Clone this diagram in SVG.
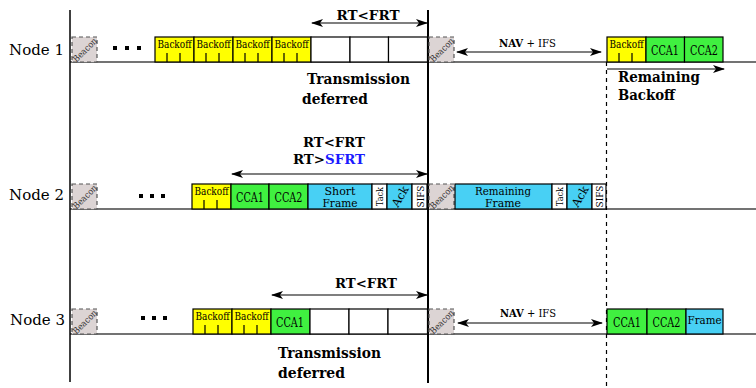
<svg xmlns="http://www.w3.org/2000/svg" width="756" height="388" viewBox="0 0 756 388">
<defs>
<style>
.bk{fill:#ffff00;stroke:#000;stroke-width:1.2}
.cc{fill:#40f040;stroke:#000;stroke-width:1.2}
.fr{fill:#48d0f4;stroke:#000;stroke-width:1.2}
.wh{fill:#fff;stroke:#000;stroke-width:1.2}
.bc{fill:#dcd4d4;stroke:#555;stroke-width:1.2;stroke-dasharray:4 3}
.tk{stroke:#000;stroke-width:1.2}
.tl{stroke:#444;stroke-width:1.5}
.ar{stroke:#000;stroke-width:1.2;fill:none;marker-start:url(#ah);marker-end:url(#ah)}
text{font-family:"DejaVu Serif","Liberation Serif",serif;fill:#000}
.bt{font-size:10.5px}
.ct{font-size:12.5px}
.bn{font-size:9px;fill:#333}
.lb{font-size:15px}
.b{font-weight:bold}
</style>
<marker id="ah" viewBox="0 0 12 8" refX="11" refY="4" markerWidth="12" markerHeight="8" markerUnits="userSpaceOnUse" orient="auto-start-reverse">
<path d="M0,0 L12,4 L0,8 L3,4 z" fill="#000"/>
</marker>
<g id="bo"><rect class="bk" x="0" y="0" width="39" height="25"/><line class="tk" x1="12" y1="16" x2="12" y2="25"/><line class="tk" x1="25" y1="16" x2="25" y2="25"/><text class="bt" x="19.5" y="11" text-anchor="middle" textLength="34" lengthAdjust="spacingAndGlyphs">Backoff</text></g>
<g id="bcn"><rect class="bc" x="0" y="0" width="25" height="25"/><text class="bn" transform="translate(13,13) rotate(-45)" x="0" y="3" text-anchor="middle" textLength="30" lengthAdjust="spacingAndGlyphs">Beacon</text></g>
</defs>
<rect width="756" height="388" fill="#fff"/>

<g id="axes">
<line class="tl" x1="70" y1="62" x2="756" y2="62"/>
<line class="tl" x1="70" y1="209" x2="756" y2="209"/>
<line class="tl" x1="70" y1="334" x2="756" y2="334"/>
<line x1="70" y1="10" x2="70" y2="382" stroke="#000" stroke-width="1.5"/>
<line x1="428" y1="10" x2="428" y2="383" stroke="#000" stroke-width="2"/>
<line x1="606.5" y1="62" x2="606.5" y2="386" stroke="#000" stroke-width="1.2" stroke-dasharray="4 4"/>
</g>

<g id="node1">
<text class="lb" x="9" y="55">Node 1</text>
<use href="#bcn" x="72" y="37"/>
<rect x="113" y="46" width="4" height="4"/><rect x="125" y="46" width="4" height="4"/><rect x="137" y="46" width="4" height="4"/>
<use href="#bo" x="155" y="37"/>
<use href="#bo" x="194" y="37"/>
<use href="#bo" x="233" y="37"/>
<use href="#bo" x="272" y="37"/>
<rect class="wh" x="311" y="37" width="39" height="25"/>
<rect class="wh" x="350" y="37" width="38.5" height="25"/>
<rect class="wh" x="388.5" y="37" width="39" height="25"/>
<use href="#bcn" x="429" y="37"/>
<text class="b" x="368" y="20" font-size="13" text-anchor="middle" textLength="63" lengthAdjust="spacingAndGlyphs">RT&lt;FRT</text>
<text class="b" x="307" y="84" font-size="15" textLength="103" lengthAdjust="spacingAndGlyphs">Transmission</text>
<text class="b" x="302" y="104" font-size="15" textLength="66" lengthAdjust="spacingAndGlyphs">deferred</text>
<text x="499" y="47" font-size="10.5" textLength="57" lengthAdjust="spacingAndGlyphs"><tspan class="b">NAV</tspan> + IFS</text>
<use href="#bo" x="607" y="37"/>
<rect class="cc" x="646" y="37" width="38.5" height="25"/>
<text class="ct" x="665" y="55" text-anchor="middle" textLength="28" lengthAdjust="spacingAndGlyphs">CCA1</text>
<rect class="cc" x="684.5" y="37" width="38.5" height="25"/>
<text class="ct" x="704" y="55" text-anchor="middle" textLength="28" lengthAdjust="spacingAndGlyphs">CCA2</text>
<text class="b" x="618" y="82" font-size="14" textLength="82" lengthAdjust="spacingAndGlyphs">Remaining</text>
<text class="b" x="618" y="100" font-size="14" textLength="57" lengthAdjust="spacingAndGlyphs">Backoff</text>
</g>

<g id="node2">
<text class="lb" x="9" y="200">Node 2</text>
<use href="#bcn" x="72" y="184"/>
<rect x="139" y="194" width="4" height="4"/><rect x="150" y="194" width="4" height="4"/><rect x="161" y="194" width="4" height="4"/>
<use href="#bo" x="192" y="184"/>
<rect class="cc" x="231" y="184" width="38" height="25"/>
<text class="ct" x="250" y="202" text-anchor="middle" textLength="28" lengthAdjust="spacingAndGlyphs">CCA1</text>
<rect class="cc" x="269" y="184" width="39" height="25"/>
<text class="ct" x="288.5" y="202" text-anchor="middle" textLength="28" lengthAdjust="spacingAndGlyphs">CCA2</text>
<rect class="fr" x="308" y="184" width="64" height="25"/>
<text x="340" y="195" text-anchor="middle" font-size="11" fill="#223" textLength="31" lengthAdjust="spacingAndGlyphs">Short</text>
<text x="340" y="207" text-anchor="middle" font-size="11" fill="#223" textLength="35" lengthAdjust="spacingAndGlyphs">Frame</text>
<rect class="wh" x="372" y="184" width="15" height="25"/>
<text transform="translate(382.5,196.5) rotate(-90)" text-anchor="middle" font-size="9" textLength="19" lengthAdjust="spacingAndGlyphs">Tack</text>
<rect class="fr" x="387" y="184" width="25" height="25"/>
<text transform="translate(400,196.5) rotate(-60)" x="0" y="4" text-anchor="middle" font-size="11.5" textLength="22" lengthAdjust="spacingAndGlyphs">Ack</text>
<rect class="wh" x="412" y="184" width="15" height="25"/>
<text transform="translate(423.5,196.5) rotate(-90)" text-anchor="middle" font-size="9" textLength="22" lengthAdjust="spacingAndGlyphs">SIFS</text>
<text class="b" x="365" y="147" font-size="13" text-anchor="end" textLength="62" lengthAdjust="spacingAndGlyphs">RT&lt;FRT</text>
<text class="b" x="365" y="164" font-size="13" text-anchor="end" textLength="72" lengthAdjust="spacingAndGlyphs">RT&gt;<tspan fill="#1a1aff">SFRT</tspan></text>
<use href="#bcn" x="429" y="184"/>
<rect class="fr" x="455" y="184" width="97" height="25"/>
<text x="503" y="195" text-anchor="middle" font-size="11" fill="#223" textLength="56" lengthAdjust="spacingAndGlyphs">Remaining</text>
<text x="503" y="207" text-anchor="middle" font-size="11" fill="#223" textLength="36" lengthAdjust="spacingAndGlyphs">Frame</text>
<rect class="wh" x="552" y="184" width="15" height="25"/>
<text transform="translate(562.5,196.5) rotate(-90)" text-anchor="middle" font-size="9" textLength="19" lengthAdjust="spacingAndGlyphs">Tack</text>
<rect class="fr" x="567" y="184" width="25" height="25"/>
<text transform="translate(580,196.5) rotate(-60)" x="0" y="4" text-anchor="middle" font-size="11.5" textLength="22" lengthAdjust="spacingAndGlyphs">Ack</text>
<rect class="wh" x="592" y="184" width="14" height="25"/>
<text transform="translate(603,196.5) rotate(-90)" text-anchor="middle" font-size="9" textLength="22" lengthAdjust="spacingAndGlyphs">SIFS</text>
</g>

<g id="node3">
<text class="lb" x="10" y="325">Node 3</text>
<use href="#bcn" x="72" y="309"/>
<rect x="141" y="316" width="4" height="4"/><rect x="152" y="316" width="4" height="4"/><rect x="163" y="316" width="4" height="4"/>
<use href="#bo" x="193" y="309"/>
<use href="#bo" x="232" y="309"/>
<rect class="cc" x="271" y="309" width="39" height="25"/>
<text class="ct" x="290" y="327" text-anchor="middle" textLength="28" lengthAdjust="spacingAndGlyphs">CCA1</text>
<rect class="wh" x="310" y="309" width="39" height="25"/>
<rect class="wh" x="349" y="309" width="39" height="25"/>
<rect class="wh" x="388" y="309" width="39.5" height="25"/>
<text class="b" x="366" y="288" font-size="13" text-anchor="middle" textLength="62" lengthAdjust="spacingAndGlyphs">RT&lt;FRT</text>
<text class="b" x="278" y="358" font-size="15" textLength="103" lengthAdjust="spacingAndGlyphs">Transmission</text>
<text class="b" x="278" y="378" font-size="15" textLength="67" lengthAdjust="spacingAndGlyphs">deferred</text>
<use href="#bcn" x="429" y="309"/>
<text x="500" y="317" font-size="10.5" textLength="56" lengthAdjust="spacingAndGlyphs"><tspan class="b">NAV</tspan> + IFS</text>
<rect class="cc" x="607" y="309" width="40" height="25"/>
<text class="ct" x="627" y="327" text-anchor="middle" textLength="28" lengthAdjust="spacingAndGlyphs">CCA1</text>
<rect class="cc" x="647" y="309" width="39" height="25"/>
<text class="ct" x="666.5" y="327" text-anchor="middle" textLength="28" lengthAdjust="spacingAndGlyphs">CCA2</text>
<rect class="fr" x="686" y="309" width="37" height="25"/>
<text x="704.5" y="324" font-size="11.5" text-anchor="middle" fill="#223" textLength="34" lengthAdjust="spacingAndGlyphs">Frame</text>
</g>

<g id="connectors">
<line class="ar" x1="312" y1="23" x2="427" y2="23"/>
<line class="ar" x1="457" y1="52" x2="601" y2="52"/>
<line x1="607" y1="69" x2="724" y2="69" stroke="#000" stroke-width="1.2" marker-end="url(#ah)"/>
<line class="ar" x1="232" y1="174" x2="427" y2="174"/>
<line class="ar" x1="272" y1="295" x2="427" y2="295"/>
<line class="ar" x1="458" y1="323" x2="602" y2="323"/>
</g>
</svg>
